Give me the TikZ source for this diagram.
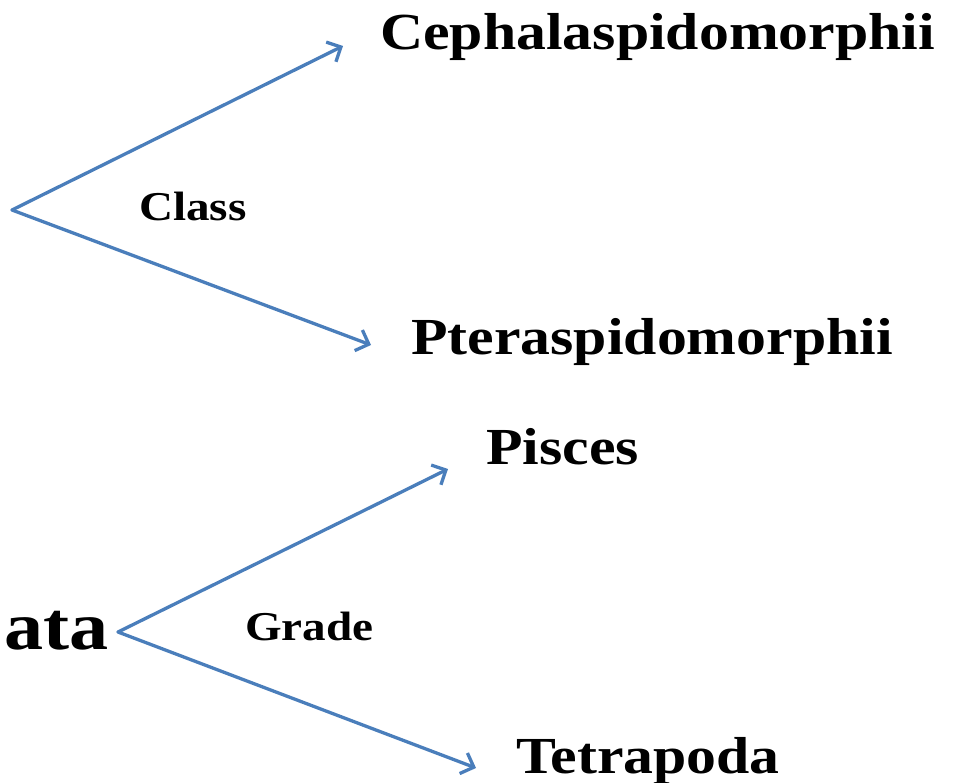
\documentclass[tikz,border=0pt]{standalone}
\usepackage{fontspec}
\setmainfont{Liberation Serif}[FakeStretch=1.15]
\usetikzlibrary{arrows.meta}
\definecolor{arrowblue}{HTML}{4A7EBB}
\tikzset{
  branch/.style={draw=arrowblue, line width=3.3pt, line cap=round, line join=round,
    -{Straight Barb[length=11pt,width=22pt,line width=3.3pt]}},
  bigname/.style={inner sep=0pt, anchor=base west, font=\fontsize{52}{60}\selectfont\bfseries},
  ranklabel/.style={inner sep=0pt, anchor=base west, font=\fontsize{41}{48}\selectfont\bfseries},
}
\begin{document}
\begin{tikzpicture}[x=1pt,y=-1pt]
\useasboundingbox (0,0) rectangle (955,782);
% top fork
\coordinate (apexA) at (12,210);
\coordinate (tipA1) at (343,46);
\coordinate (tipA2) at (371,345);
\draw[branch] (apexA) -- (tipA1);
\draw[branch] (apexA) -- (tipA2);
\node[ranklabel] (class) at (139,220) {Class};
\node[bigname] (ceph) at (380,49) {Cephalaspidomorphii};
\node[bigname] (pter) at (411,354) {Pteraspidomorphii};
% bottom fork
\coordinate (apexB) at (118,632);
\coordinate (tipB1) at (448,469);
\coordinate (tipB2) at (476,768);
\draw[branch] (apexB) -- (tipB1);
\draw[branch] (apexB) -- (tipB2);
\node[inner sep=0pt, anchor=base east, font=\fontsize{68}{76}\selectfont\bfseries] (vert) at (109,649) {ata};
\node[ranklabel] (grade) at (245,640) {Grade};
\node[bigname] (pisc) at (486,464) {Pisces};
\node[bigname] (tetr) at (516,773) {Tetrapoda};
\end{tikzpicture}
\end{document}
